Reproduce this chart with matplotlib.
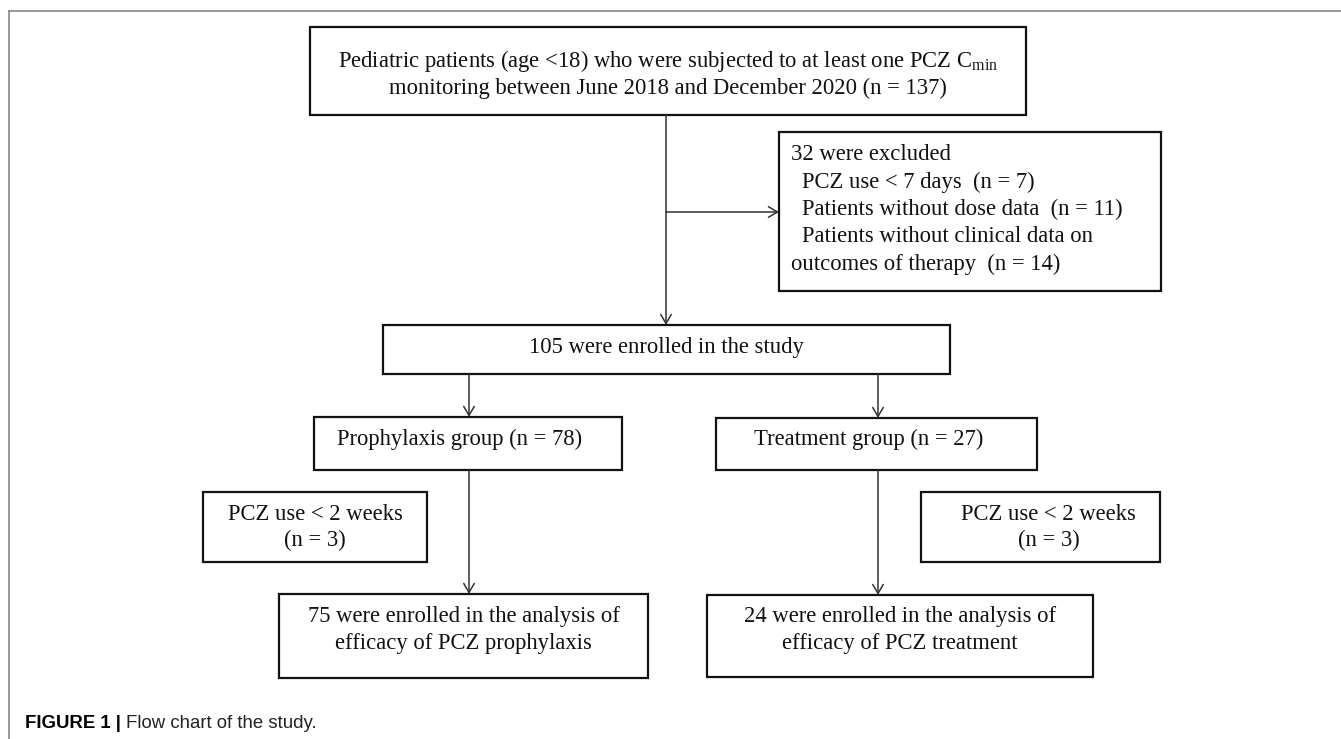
import matplotlib
matplotlib.use("Agg")
import matplotlib.pyplot as plt
from matplotlib.patches import Rectangle, FancyArrowPatch

plt.rcParams['mathtext.fontset'] = 'custom'
plt.rcParams['mathtext.rm'] = 'Liberation Serif'

# --- study flow numbers ---
screened_n = 137
excluded_n = 32
exclusion_reasons = ["PCZ use < 7 days", "Patients without dose data",
                     "Patients without clinical data on", "outcomes of therapy"]
exclusion_counts = [7, 11, None, 14]
enrolled_n = 105
group_names = ["Prophylaxis", "Treatment"]
group_n = [78, 27]
short_use_n = [3, 3]
analysed_n = [75, 24]
analysis_kind = ["prophylaxis", "treatment"]
caption_bold = "FIGURE 1 |"
caption_text = "Flow chart of the study."

W, H = 1341, 739
fig = plt.figure(figsize=(W / 100, H / 100), dpi=100)
ax = fig.add_axes([0, 0, 1, 1])
ax.set_xlim(0, W)
ax.set_ylim(H, 0)
ax.axis('off')

SERIF = 'Liberation Serif'
FS = 16.3
DY = 2.5  # va='center' sits a bit high because of descenders


def box(x0, y0, x1, y1):
    ax.add_patch(Rectangle((x0, y0), x1 - x0, y1 - y0, fill=False,
                           lw=1.6, ec='#111111'))


def arrow(p0, p1):
    ax.add_patch(FancyArrowPatch(p0, p1, arrowstyle='->,head_length=0.65,head_width=0.38',
                                 mutation_scale=10, lw=1.1, color='#333333',
                                 shrinkA=0, shrinkB=0))


def txt(x, y, s, ha='center'):
    ax.text(x, y + DY, s, ha=ha, va='center', fontsize=FS, family=SERIF, color='#111111')


# page frame lines
ax.plot([9, W], [11, 11], color='#888888', lw=1.2)
ax.plot([9, 9], [11, H], color='#888888', lw=1.2)

# top box
box(310, 27, 1026, 115)
txt(668, 58, "Pediatric patients (age <18) who were subjected to at least one PCZ C$_{\\mathrm{min}}$")
txt(668, 86, f"monitoring between June 2018 and December 2020 (n = {screened_n})")

# exclusion box
box(779, 132, 1161, 291)
excl_lines = [f"{excluded_n} were excluded"]
for reason, cnt in zip(exclusion_reasons, exclusion_counts):
    excl_lines.append(reason if cnt is None else f"{reason}  (n = {cnt})")
indent = [False, True, True, True, False]
for i, (s, ind) in enumerate(zip(excl_lines, indent)):
    txt(802 if ind else 791, 152 + i * 27.5, s, ha='left')

arrow((666, 115), (666, 325))
arrow((666, 212), (779, 212))

# enrolled
box(383, 325, 950, 374)
txt(666, 345, f"{enrolled_n} were enrolled in the study")

# groups
group_boxes = [(314, 417, 622, 470), (716, 418, 1037, 470)]
group_x = [469, 878]
short_boxes = [(203, 492, 427, 562), (921, 492, 1160, 562)]
final_boxes = [(279, 594, 648, 678), (707, 595, 1093, 677)]
for k in range(2):
    gx = group_x[k]
    arrow((gx, 374), (gx, group_boxes[k][1]))
    x0, y0, x1, y1 = group_boxes[k]
    box(x0, y0, x1, y1)
    txt((x0 + x1) / 2 - 8, 437, f"{group_names[k]} group (n = {group_n[k]})")
    arrow((gx, y1), (gx, final_boxes[k][1]))

    x0, y0, x1, y1 = short_boxes[k]
    box(x0, y0, x1, y1)
    txt((x0 + x1) / 2 + (0 if k == 0 else 8), 512, "PCZ use < 2 weeks")
    txt((x0 + x1) / 2 + (0 if k == 0 else 8), 538, f"(n = {short_use_n[k]})")

    x0, y0, x1, y1 = final_boxes[k]
    box(x0, y0, x1, y1)
    txt((x0 + x1) / 2, 614, f"{analysed_n[k]} were enrolled in the analysis of")
    txt((x0 + x1) / 2, 641, f"efficacy of PCZ {analysis_kind[k]}")

# caption
cb = ax.text(25, 724, caption_bold, ha='left', va='center', fontsize=13.4,
             family='Liberation Sans', weight='bold', color='black')
fig.canvas.draw()
bb = cb.get_window_extent().transformed(ax.transData.inverted())
ax.text(bb.x1 + 5, 724, caption_text, ha='left', va='center', fontsize=13.4,
        family='Liberation Sans', color='#222222')

fig.savefig('out.png', dpi=100)
